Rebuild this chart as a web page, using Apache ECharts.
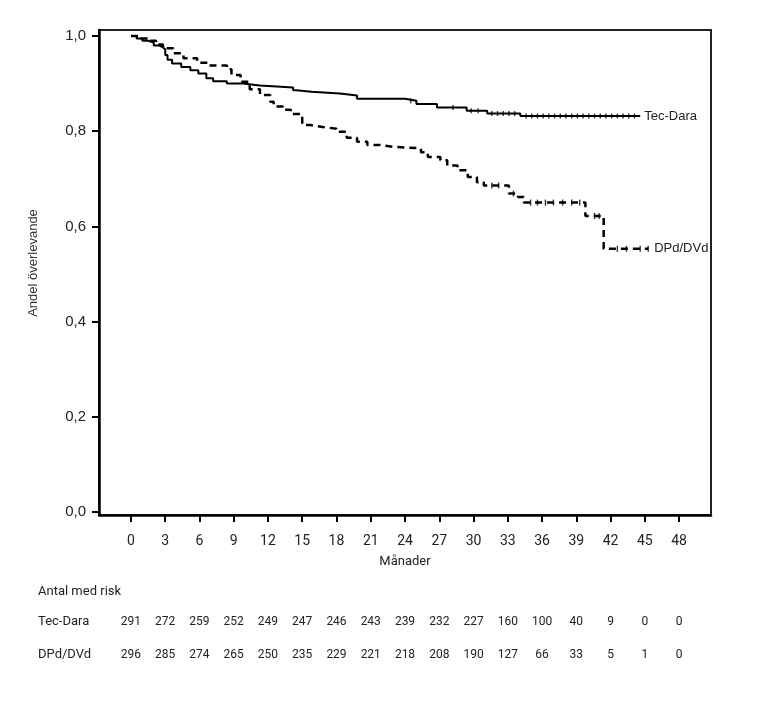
<!DOCTYPE html>
<html>
<head>
<meta charset="utf-8">
<script src="https://cdn.jsdelivr.net/npm/echarts@6/dist/echarts.min.js"></script>
<style>
  html, body { margin: 0; padding: 0; background: #fff; }
  #chart { width: 765px; height: 710px; }
</style>
</head>
<body>
<div id="chart"></div>
<script>
// months shown on the x axis and in the risk table
var months = [0, 3, 6, 9, 12, 15, 18, 21, 24, 27, 30, 33, 36, 39, 42, 45, 48];
var yTicks = [0, 0.2, 0.4, 0.6, 0.8, 1.0];

var tecName = 'Tec-Dara';
var dpdName = 'DPd/DVd';

// Kaplan-Meier steps [month, survival]
var tecCurve = [
  [0, 1.0], [0.5, 0.995], [1.0, 0.99], [1.5, 0.986], [2.0, 0.98], [2.5, 0.976],
  [2.8, 0.972], [3.0, 0.96], [3.2, 0.95], [3.6, 0.942], [4.4, 0.935], [5.2, 0.928],
  [5.9, 0.921], [6.6, 0.911], [7.2, 0.905], [8.4, 0.90], [9.8, 0.896], [11.3, 0.892],
  [14.2, 0.886], [14.5, 0.883], [15.8, 0.879], [18.3, 0.875], [19.8, 0.868],
  [24.0, 0.864], [25.0, 0.857], [26.8, 0.850], [29.4, 0.843], [31.2, 0.837],
  [34.1, 0.832], [44.6, 0.832]
];
var dpdCurve = [
  [0, 1.0], [0.8, 0.995], [1.5, 0.99], [2.2, 0.982], [2.8, 0.974], [3.7, 0.964],
  [4.6, 0.953], [5.8, 0.944], [6.7, 0.938], [8.4, 0.93], [8.8, 0.918], [9.6, 0.904],
  [10.4, 0.888], [11.3, 0.876], [12.2, 0.862], [12.5, 0.852], [13.3, 0.845],
  [14.0, 0.836], [15.0, 0.813], [15.7, 0.809], [16.8, 0.805], [18.0, 0.799],
  [18.9, 0.786], [19.8, 0.778], [20.7, 0.771], [21.8, 0.767], [23.0, 0.764],
  [25.4, 0.756], [26.0, 0.746], [27.1, 0.739], [27.7, 0.728], [28.6, 0.718],
  [29.5, 0.704], [30.3, 0.693], [30.9, 0.686], [33.1, 0.669], [33.9, 0.662],
  [34.4, 0.650], [39.8, 0.622], [41.4, 0.553], [45.3, 0.553]
];

// censoring ticks (months)
var tecCensor = [24.5, 28.2, 29.8, 30.4, 31.6, 32.1, 32.6, 33.1, 33.6, 34.6, 35.1, 35.6,
  36.1, 36.6, 37.1, 37.6, 38.1, 38.6, 39.1, 39.6, 40.1, 40.6, 41.1, 41.6, 42.1, 42.6,
  43.1, 43.6, 44.1];
var dpdCensor = [31.6, 32.2, 33.5, 35.0, 35.6, 36.3, 37.0, 37.8, 38.6, 39.3, 40.6,
  41.0, 42.6, 43.4, 44.6, 45.3];

// number at risk
var tecRisk = [291, 272, 259, 252, 249, 247, 246, 243, 239, 232, 227, 160, 100, 40, 9, 0, 0];
var dpdRisk = [296, 285, 274, 265, 250, 235, 229, 221, 218, 208, 190, 127, 66, 33, 5, 1, 0];

function levelAt(curve, t) {
  var v = curve[0][1];
  for (var i = 0; i < curve.length; i++) {
    if (curve[i][0] <= t) v = curve[i][1];
  }
  return v;
}
function censorPoints(curve, times) {
  return times.map(function (t) { return [t, levelAt(curve, t)]; });
}

var narrow = "Roboto, 'Liberation Sans', sans-serif";
var plain = "'Liberation Sans', Arial, sans-serif";

function riskAxis(list, offset) {
  return {
    type: 'value', gridIndex: 0, position: 'bottom', offset: offset,
    min: -2.8, max: 50.8,
    axisLine: { show: false }, axisTick: { show: false }, splitLine: { show: false },
    axisLabel: {
      customValues: months, margin: 0, fontSize: 12, color: '#222', fontFamily: narrow,
      formatter: function (v) { return String(list[months.indexOf(v)]); }
    }
  };
}

var option = {
  animation: false,
  backgroundColor: '#fff',
  grid: {
    left: 99, right: 54, top: 30, bottom: 195,
    show: true, borderColor: '#222', borderWidth: 2
  },
  xAxis: [
    {
      type: 'value', min: -2.8, max: 50.8,
      name: 'Månader', nameLocation: 'middle', nameGap: 40,
      nameTextStyle: { fontSize: 13, color: '#222', fontFamily: narrow },
      axisLine: { show: true, onZero: false, lineStyle: { color: '#000', width: 2.5 } },
      axisTick: { show: true, customValues: months, length: 7, lineStyle: { color: '#000', width: 2 } },
      axisLabel: { customValues: months, margin: 19, fontSize: 14, color: '#222', fontFamily: narrow },
      splitLine: { show: false }
    },
    riskAxis(tecRisk, 101),
    riskAxis(dpdRisk, 134)
  ],
  yAxis: {
    type: 'value', min: -0.0063, max: 1.0126,
    axisLine: { show: true, onZero: false, lineStyle: { color: '#000', width: 2.5 } },
    axisTick: { show: true, customValues: yTicks, length: 7, lineStyle: { color: '#000', width: 2 } },
    axisLabel: {
      customValues: yTicks, margin: 13, fontSize: 15, color: '#222', fontFamily: plain,
      formatter: function (v) { return v.toFixed(1).replace('.', ','); }
    },
    splitLine: { show: false }
  },
  graphic: [
    { type: 'text', left: 38, top: 585, style: { text: 'Antal med risk', fontSize: 13, fill: '#222', fontFamily: narrow } },
    { type: 'text', left: 38, top: 615, style: { text: tecName, fontSize: 13, fill: '#222', fontFamily: narrow } },
    { type: 'text', left: 38, top: 648, style: { text: dpdName, fontSize: 13, fill: '#222', fontFamily: narrow } },
    {
      type: 'text', x: 33, y: 263, rotation: Math.PI / 2,
      style: { text: 'Andel överlevande', fontSize: 13, fill: '#333', fontFamily: plain, align: 'center', verticalAlign: 'middle' }
    }
  ],
  series: [
    {
      name: tecName, type: 'line', step: 'end', data: tecCurve,
      showSymbol: false, symbol: 'none',
      lineStyle: { color: '#000', width: 2 },
      endLabel: { show: true, formatter: tecName, distance: 4, fontSize: 13, color: '#222', fontFamily: plain }
    },
    {
      name: dpdName, type: 'line', step: 'end', data: dpdCurve,
      showSymbol: false, symbol: 'none',
      lineStyle: { color: '#000', width: 2.5, type: [7, 5] },
      endLabel: { show: true, formatter: dpdName, distance: 6, fontSize: 13, color: '#222', fontFamily: plain }
    },
    {
      type: 'scatter', data: censorPoints(tecCurve, tecCensor),
      symbol: 'rect', symbolSize: [1.4, 5], itemStyle: { color: '#000' }, silent: true
    },
    {
      type: 'scatter', data: censorPoints(dpdCurve, dpdCensor),
      symbol: 'rect', symbolSize: [1.4, 6], itemStyle: { color: '#000' }, silent: true
    }
  ]
};

var chart = echarts.init(document.getElementById('chart'));
chart.setOption(option);
</script>
</body>
</html>
